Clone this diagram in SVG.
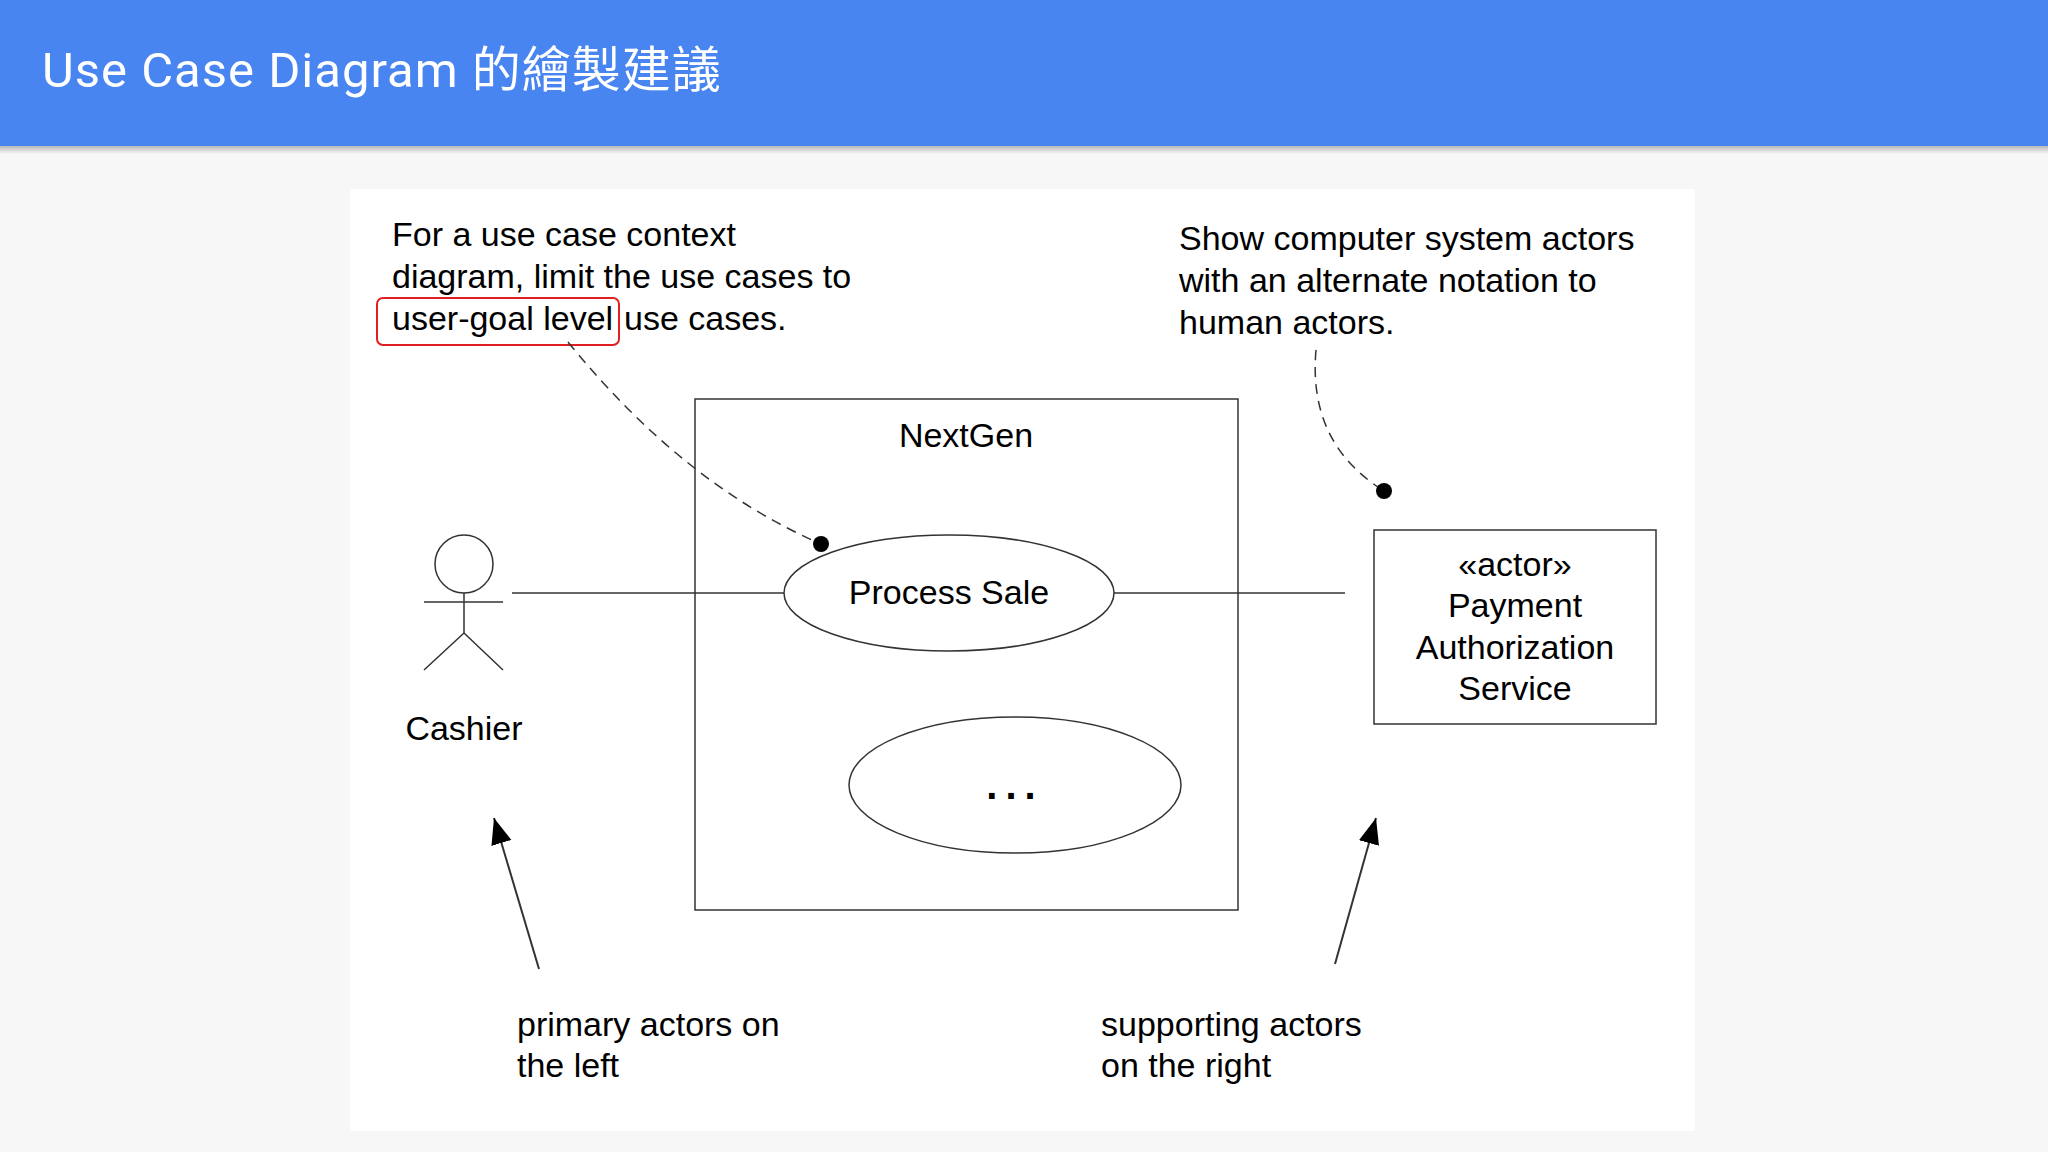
<svg xmlns="http://www.w3.org/2000/svg" width="2048" height="1152" viewBox="0 0 2048 1152">
<defs>
<style>
.t{font-family:"Liberation Sans",Arial,sans-serif;font-size:34px;fill:#000}
.c{text-anchor:middle}
.ln{stroke:#333;stroke-width:1.5;fill:none}
.sh{fill:#fff;stroke:#333;stroke-width:1.5}
</style>
<linearGradient id="sd" x1="0" y1="0" x2="0" y2="1"><stop offset="0" stop-color="#000" stop-opacity="0.25"/><stop offset="1" stop-color="#000" stop-opacity="0"/></linearGradient>
<marker id="ah" viewBox="0 0 10 10" refX="10" refY="5" markerWidth="26" markerHeight="26" markerUnits="userSpaceOnUse" orient="auto"><path d="M0,1 L10,5 L0,9 Z" fill="#000"/></marker>
</defs>
<rect width="2048" height="1152" fill="#f7f7f7"/>
<rect x="350" y="189" width="1345" height="942" fill="#fff"/>
<rect y="146" width="2048" height="8" fill="url(#sd)"/>
<rect width="2048" height="146" fill="#4885f1"/>
<text x="42" y="87" style="font-family:'Roboto','Noto Sans CJK TC',sans-serif;font-size:49px;letter-spacing:1px;fill:#fff">Use Case Diagram 的繪製建議</text>
<g id="note-left">
<text class="t" x="392" y="246">For a use case context</text>
<text class="t" x="392" y="288">diagram, limit the use cases to</text>
<text class="t" x="392" y="330">user-goal level</text>
<text class="t" x="624" y="330">use cases.</text>
<rect x="377" y="298" width="242" height="47" rx="6" fill="none" stroke="#e02020" stroke-width="2"/>
</g>
<g id="note-right">
<text class="t" x="1179" y="250">Show computer system actors</text>
<text class="t" x="1179" y="292">with an alternate notation to</text>
<text class="t" x="1179" y="334">human actors.</text>
</g>
<g id="system">
<rect x="695" y="399" width="543" height="511" style="fill:none;stroke:#333;stroke-width:1.5"/>
<text class="t c" x="966" y="447">NextGen</text>
</g>
<g id="connectors">
<line class="ln" x1="512" y1="593" x2="784" y2="593"/>
<line class="ln" x1="1114" y1="593" x2="1345" y2="593"/>
<path class="ln" d="M568,342 Q680,480 812,540" stroke-dasharray="10,7"/>
<circle cx="821" cy="544" r="8" fill="#000"/>
<path class="ln" d="M1316,350 Q1308,440 1378,487" stroke-dasharray="10,7"/>
<circle cx="1384" cy="491" r="8" fill="#000"/>
<line x1="539" y1="969" x2="494" y2="818" stroke="#333" stroke-width="2" marker-end="url(#ah)"/>
<line x1="1335" y1="964" x2="1376" y2="818" stroke="#333" stroke-width="2" marker-end="url(#ah)"/>
</g>
<g id="process-sale">
<ellipse class="sh" cx="949" cy="593" rx="165" ry="58"/>
<text class="t c" x="949" y="604">Process Sale</text>
</g>
<g id="other-uc">
<ellipse class="sh" cx="1015" cy="785" rx="166" ry="68"/>
<text class="t c" x="1015" y="799" style="font-weight:bold;font-size:40px;letter-spacing:8px">...</text>
</g>
<g id="cashier">
<circle class="sh" cx="464" cy="564" r="29"/>
<path class="ln" d="M464,593 V633 M424,602 H503 M424,670 L464,633 L503,670"/>
<text class="t c" x="464" y="740">Cashier</text>
</g>
<g id="payment">
<rect class="sh" x="1374" y="530" width="282" height="194"/>
<text class="t c" x="1515" y="576">«actor»</text>
<text class="t c" x="1515" y="617">Payment</text>
<text class="t c" x="1515" y="659">Authorization</text>
<text class="t c" x="1515" y="700">Service</text>
</g>
<g id="label-primary">
<text class="t" x="517" y="1036">primary actors on</text>
<text class="t" x="517" y="1077">the left</text>
</g>
<g id="label-supporting">
<text class="t" x="1101" y="1036">supporting actors</text>
<text class="t" x="1101" y="1077">on the right</text>
</g>
</svg>
